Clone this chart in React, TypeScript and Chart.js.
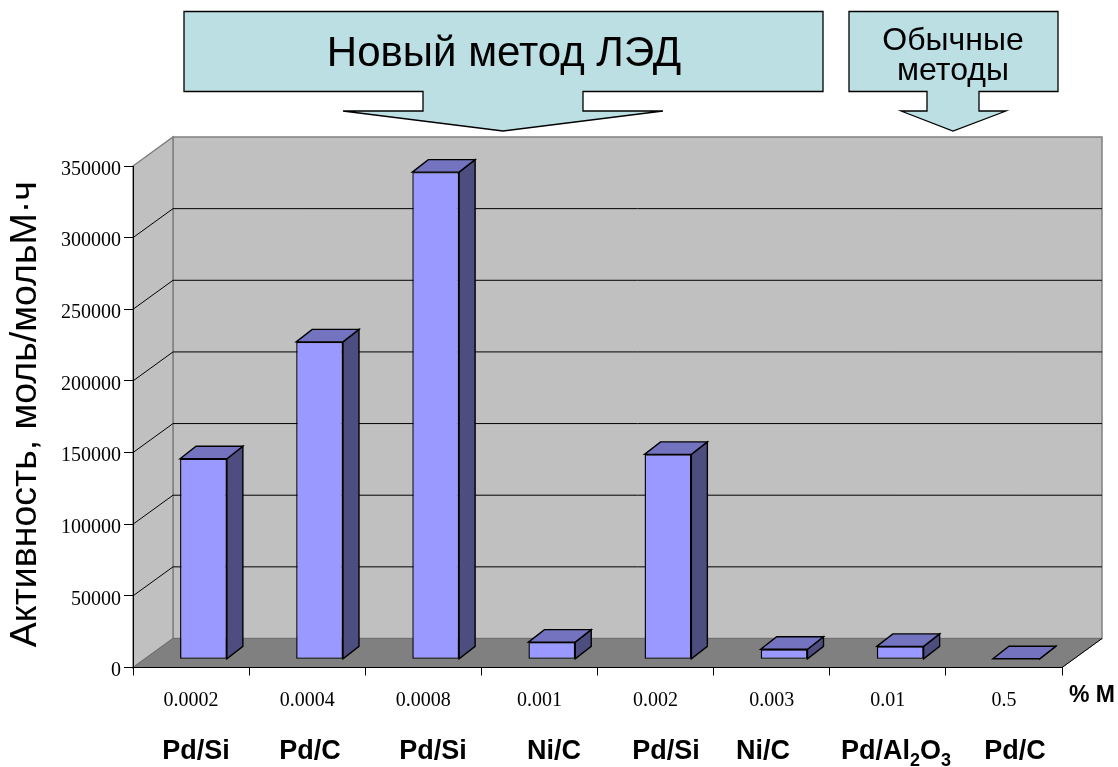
import React, { useEffect, useRef } from "react";
import { Chart, registerables } from "chart.js";

Chart.register(...registerables);

const loadings = ["0.0002", "0.0004", "0.0008", "0.001", "0.002", "0.003", "0.01", "0.5"];
const activity = [140000, 221500, 340000, 12000, 143000, 7000, 9000, 400];
const catalysts = ["Pd/Si", "Pd/C", "Pd/Si", "Ni/C", "Pd/Si", "Ni/C", "", "Pd/C"];
const catalystCentres = [196, 310, 433, 554, 666, 763, 0, 1015];
const yTitle = "Активность, моль/мольМ·ч";
const unitLabel = "% М";
const mainCallout = "Новый метод ЛЭД";
const sideCallout = ["Обычные", "методы"];

const DX = 40; // wall depth
const DY = 29;
const BAR_SHIFT_X = 12.4;
const BAR_SHIFT_Y = -8.2;
const BAR_DX = 16;
const BAR_DY = 12.5;

function poly(ctx: CanvasRenderingContext2D, pts: number[][], fill: string | null, stroke: string | null, lw = 1) {
  ctx.beginPath();
  pts.forEach((p, i) => (i ? ctx.lineTo(p[0], p[1]) : ctx.moveTo(p[0], p[1])));
  ctx.closePath();
  if (fill) { ctx.fillStyle = fill; ctx.fill(); }
  if (stroke) { ctx.strokeStyle = stroke; ctx.lineWidth = lw; ctx.stroke(); }
}

function shifted(scale: any, method: string, dy: number) {
  const orig = scale[method];
  scale[method] = function (...args: any[]) {
    const c = this.ctx;
    c.save();
    c.translate(0, dy);
    orig.apply(this, args);
    c.restore();
  };
  scale["_" + method + "Shifted"] = true;
}

const roomPlugin = {
  id: "room",
  beforeDraw(chart: any) {
    const { ctx, chartArea: a, scales } = chart;
    const y = scales.y;
    ctx.save();
    ctx.fillStyle = "#fff";
    ctx.fillRect(0, 0, chart.width, chart.height);
    const L = a.left, R = a.right, T = a.top, B = a.bottom;
    // back wall
    poly(ctx, [[L + DX, T - DY], [R + DX, T - DY], [R + DX, B - DY], [L + DX, B - DY]], "#C0C0C0", "#808080", 1.5);
    // left wall
    poly(ctx, [[L, T], [L + DX, T - DY], [L + DX, B - DY], [L, B]], "#C0C0C0", "#808080", 1.5);
    // floor
    poly(ctx, [[L, B], [L + DX, B - DY], [R + DX, B - DY], [R, B]], "#808080", "#707070", 1);
    // grid lines carried over both walls
    y.ticks.forEach((t: any) => {
      if (t.value === 0 || t.value === y.max) return;
      const py = y.getPixelForValue(t.value);
      ctx.beginPath();
      ctx.moveTo(L, py);
      ctx.lineTo(L + DX, py - DY);
      ctx.lineTo(R + DX, py - DY);
      ctx.strokeStyle = "#000";
      ctx.lineWidth = 1;
      ctx.stroke();
    });
    ctx.restore();
  },
  beforeDatasetDraw(chart: any) {
    const { ctx } = chart;
    ctx.save();
    ctx.translate(BAR_SHIFT_X, BAR_SHIFT_Y);
    chart.getDatasetMeta(0).data.forEach((bar: any) => {
      const hw = bar.width / 2;
      const l = bar.x - hw, r = bar.x + hw, t = bar.y, b = bar.base;
      poly(ctx, [[r, t], [r + BAR_DX, t - BAR_DY], [r + BAR_DX, b - BAR_DY], [r, b]], "#4D4D80", "#000", 1.4);
      poly(ctx, [[l, t], [l + BAR_DX, t - BAR_DY], [r + BAR_DX, t - BAR_DY], [r, t]], "#7373BF", "#000", 1.4);
    });
  },
  afterDatasetDraw(chart: any) {
    chart.ctx.restore();
  },
  afterDraw(chart: any) {
    const { ctx } = chart;
    ctx.save();
    // floor edge at the right
    const a = chart.chartArea;
    ctx.beginPath();
    ctx.moveTo(a.right, a.bottom);
    ctx.lineTo(a.right + DX, a.bottom - DY);
    ctx.strokeStyle = "#000";
    ctx.lineWidth = 1;
    ctx.stroke();

    // callouts
    const fill = "#BBDFE3";
    poly(ctx, [[184, 11.5], [823, 11.5], [823, 91.5], [583, 91.5], [583, 111], [663, 111], [503, 131], [343, 111], [423, 111], [423, 91.5], [184, 91.5]], fill, "#000", 1.3);
    poly(ctx, [[849, 11.5], [1058, 11.5], [1058, 91.5], [979, 91.5], [979, 111], [1006, 111], [953, 131], [901, 111], [927, 111], [927, 91.5], [849, 91.5]], fill, "#000", 1.3);
    ctx.fillStyle = "#000";
    ctx.textAlign = "center";
    ctx.textBaseline = "alphabetic";
    ctx.font = '42px "Liberation Sans"';
    ctx.fillText(mainCallout, 504, 66);
    ctx.font = '32px "Liberation Sans"';
    ctx.fillText(sideCallout[0], 953, 50);
    ctx.fillText(sideCallout[1], 953, 80);

    // bottom labels
    ctx.font = 'bold 27px "Liberation Sans"';
    catalysts.forEach((c, i) => {
      if (c) ctx.fillText(c, catalystCentres[i], 759);
    });
    ctx.font = 'bold 23px "Liberation Sans"';
    ctx.textAlign = "left";
    ctx.fillText(unitLabel, 1069, 702);

    // Pd/Al2O3 with subscripts
    const parts: [string, boolean][] = [["Pd/Al", false], ["2", true], ["O", false], ["3", true]];
    let x = 841;
    parts.forEach(([s, sub]) => {
      ctx.font = sub ? 'bold 18px "Liberation Sans"' : 'bold 27px "Liberation Sans"';
      ctx.fillText(s, x, sub ? 766 : 759);
      x += ctx.measureText(s).width;
    });
    ctx.restore();
  },
};

export default function App() {
  const ref = useRef<HTMLCanvasElement>(null);
  useEffect(() => {
    const chart = new Chart(ref.current!, {
      type: "bar",
      data: {
        labels: loadings,
        datasets: [{
          data: activity,
          backgroundColor: "#9999FF",
          borderColor: "#000",
          borderWidth: 1.4,
          borderSkipped: false,
          categoryPercentage: 1,
          barPercentage: 0.403,
        }],
      },
      options: {
        responsive: false,
        animation: false,
        events: [],
        layout: { padding: { top: 166, right: 56, left: 0, bottom: 0 } },
        plugins: { legend: { display: false }, tooltip: { enabled: false }, title: { display: false } },
        scales: {
          x: {
            afterFit: (s: any) => { s.height = 767 - 667.5; },
            grid: { display: true, drawOnChartArea: false, color: "#000", tickLength: 8, tickColor: "#000" },
            border: { color: "#000", width: 1 },
            ticks: { color: "#000", padding: 13, maxRotation: 0, font: { family: "Liberation Serif", size: 20 } },
          },
          y: {
            min: 0,
            max: 350000,
            afterFit: (s: any) => {
              s.width = 133;
              if (!s._drawLabelsShifted) {
                shifted(s, "drawLabels", 3.5);
                shifted(s, "drawTitle", -2.5);
              }
            },
            grid: { display: true, drawOnChartArea: false, color: "#000", tickLength: 9, tickColor: "#000" },
            border: { color: "#000", width: 1 },
            ticks: {
              color: "#000",
              stepSize: 50000,
              padding: 3,
              font: { family: "Liberation Serif", size: 20 },
              callback: (v: any) => String(v),
            },
            title: { display: true, text: yTitle, color: "#000", padding: { top: 3, bottom: 0 }, font: { family: "Liberation Sans", size: 37.5, weight: "normal" } },
          },
        },
      },
      plugins: [roomPlugin],
    } as any);
    return () => chart.destroy();
  }, []);
  return (
    <div style={{ position: "absolute", left: 0, top: 0, width: 1118, height: 767, background: "#fff" }}>
      <canvas ref={ref} width={1118} height={767} style={{ display: "block" }} />
    </div>
  );
}
